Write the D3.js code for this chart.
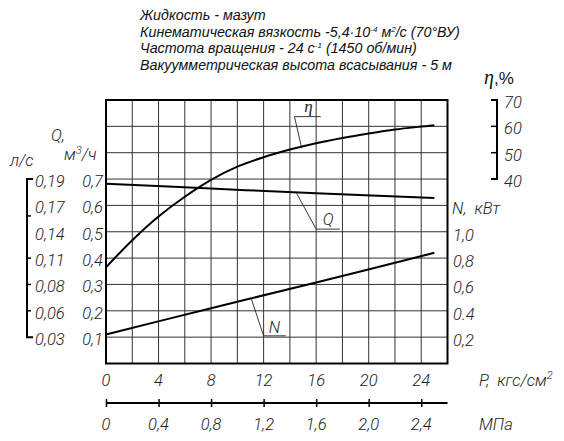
<!DOCTYPE html>
<html><head><meta charset="utf-8">
<script src="https://cdn.jsdelivr.net/npm/d3@7"></script>
<style>
body{margin:0;background:#fff}
svg{display:block}
.t{font-family:Roboto,"DejaVu Sans Condensed",sans-serif;font-style:italic;font-weight:300;font-size:16.5px;fill:#222}
.h{font-family:"Liberation Sans",Arial,sans-serif;font-style:italic;font-size:14.3px;fill:#111}
</style>
</head><body><div class="box"></div>
<script>
// pressure, kgf/cm2 and curves
const pressure=[0,2,4,6,8,10,12,14,16,18,20,22,24,25];
const efficiency=[6.5,16.8,25.8,33.3,39.7,44.7,48.3,51.2,53.6,55.6,57.3,58.8,59.9,60.4];
const flowP=[0,8,16,25];
const flow=[0.682,0.664,0.646,0.628];
const powerP=[0,8,16,25];
const power=[0.22,0.42,0.615,0.84];

const pTicks=[0,4,8,12,16,20,24];
const mpaTicks=[0,0.4,0.8,1.2,1.6,2.0,2.4];
const mpaLabels=['0','0,4','0,8','1,2','1,6','2,0','2,4'];
const qTicks=[0.7,0.6,0.5,0.4,0.3,0.2,0.1];
const qLabels=['0,7','0,6','0,5','0,4','0,3','0,2','0,1'];
const lsLabels=['0,19','0,17','0,14','0,11','0,08','0,06','0,03'];
const lsMarks=[0.56,0.4,0.3,0.2];
const nTicks=[1.0,0.8,0.6,0.4,0.2];
const nLabels=['1,0','0,8','0,6','0.4','0,2'];
const etaTicks=[70,60,50,40];

const header=[
  [['Жидкость - мазут']],
  [['Кинематическая вязкость -5,4·10'],['-4',1],[' м'],['2',1],['/с (70°ВУ)']],
  [['Частота вращения - 24 с'],['-1',1],[' (1450 об/мин)']],
  [['Вакуумметрическая высота всасывания - 5 м']]
];

const W=564,H=441;
const svg=d3.select('.box').append('svg').attr('width',W).attr('height',H).style('background','white');

const x=d3.scaleLinear().domain([0,26]).range([106,447.5]);
const xM=d3.scaleLinear().domain([0,2.6]).range([106,447.5]);
const yQ=d3.scaleLinear().domain([0,1]).range([363.5,100]);
const yN=d3.scaleLinear().domain([0,2]).range([363.5,100]);
const yE=d3.scaleLinear().domain([-30,70]).range([363.5,100]);

// header
header.forEach((line,i)=>{
  const t=svg.append('text').attr('class','h').attr('x',140).attr('y',20+i*16.5);
  line.forEach(s=>{
    const sp=t.append('tspan').text(s[0]);
    if(s[1]) sp.attr('font-size','8px').attr('dy',-5);
    else if(t.selectAll('tspan').size()>1) sp.attr('dy',5);
  });
});

// grid
const g=svg.append('g');
g.selectAll('line.v').data(d3.range(0,27,2)).enter().append('line')
  .attr('x1',d=>x(d)).attr('x2',d=>x(d)).attr('y1',yQ(1)).attr('y2',yQ(0))
  .attr('stroke','#333').attr('stroke-width',1);
g.selectAll('line.hz').data(d3.range(0,11).map(i=>i/10)).enter().append('line')
  .attr('x1',x(0)).attr('x2',x(26)).attr('y1',d=>yQ(d)).attr('y2',d=>yQ(d))
  .attr('stroke','#333').attr('stroke-width',1);
g.append('rect').attr('x',x(0)).attr('y',yQ(1)).attr('width',x(26)-x(0)).attr('height',yQ(0)-yQ(1))
  .attr('fill','none').attr('stroke','#000').attr('stroke-width',2);

// curves
const line=(sy,xs,ys)=>d3.line().x((d,i)=>x(xs[i])).y(d=>sy(d)).curve(d3.curveCatmullRom)(ys);
svg.append('path').attr('d',line(yE,pressure,efficiency)).attr('fill','none').attr('stroke','#000').attr('stroke-width',2);
svg.append('path').attr('d',line(yQ,flowP,flow)).attr('fill','none').attr('stroke','#000').attr('stroke-width',2);
svg.append('path').attr('d',line(yN,powerP,power)).attr('fill','none').attr('stroke','#000').attr('stroke-width',2);

// callouts
const callouts=[
  {s:yE,pts:[[14.9,51.7],[14.35,63.7],[16.35,63.7]],lab:'η',at:[15.1,65.5],serif:1},
  {s:yQ,pts:[[14.5,0.647],[16,0.51],[17.8,0.51]],lab:'Q',at:[16.5,0.525]},
  {s:yN,pts:[[11.07,0.49],[12,0.21],[13.7,0.21]],lab:'N',at:[12.4,0.23]}
];
callouts.forEach(c=>{
  svg.append('path').attr('d',d3.line().x(d=>x(d[0])).y(d=>c.s(d[1]))(c.pts))
    .attr('fill','none').attr('stroke','#222').attr('stroke-width',0.9);
  const t=svg.append('text').attr('x',x(c.at[0])).attr('y',c.s(c.at[1])).text(c.lab);
  if(c.serif) t.attr('font-family','"Liberation Serif",serif').attr('font-style','italic').attr('font-size','17px').attr('fill','#222');
  else t.attr('class','t');
});

// left axes
svg.selectAll('text.q').data(qTicks).enter().append('text').attr('class','t')
  .attr('x',103).attr('y',d=>yQ(d)+8).attr('text-anchor','end').text((d,i)=>qLabels[i]);
svg.selectAll('text.ls').data(qTicks).enter().append('text').attr('class','t')
  .attr('x',35).attr('y',d=>yQ(d)+8).text((d,i)=>lsLabels[i]);
svg.append('path').attr('d',`M${33},${yQ(0.7)}H27V${yQ(0.1)}H33`).attr('fill','none').attr('stroke','#000').attr('stroke-width',2);
svg.selectAll('line.lsm').data(lsMarks).enter().append('line')
  .attr('x1',27).attr('x2',31).attr('y1',d=>yQ(d)).attr('y2',d=>yQ(d)).attr('stroke','#000').attr('stroke-width',1.5);
svg.append('text').attr('class','t').attr('x',51).attr('y',141).text('Q,');
const mq=svg.append('text').attr('class','t').attr('x',64).attr('y',160);
mq.append('tspan').text('м');mq.append('tspan').text('3').attr('font-size','11px').attr('dy',-6);mq.append('tspan').text('/ч').attr('dy',6);
svg.append('text').attr('class','t').attr('x',10).attr('y',166).text('л/с');

// right axes
svg.selectAll('text.n').data(nTicks).enter().append('text').attr('class','t')
  .attr('x',453).attr('y',d=>yN(d)+9).text((d,i)=>nLabels[i]);
svg.append('text').attr('class','t').attr('x',452).attr('y',214).text('N,\u00a0\u00a0кВт');
svg.selectAll('text.e').data(etaTicks).enter().append('text').attr('class','t')
  .attr('x',504).attr('y',d=>yE(d)+8).text(d=>d);
svg.append('path').attr('d',`M491,${yE(70)}H497V${yE(40)}H491`).attr('fill','none').attr('stroke','#000').attr('stroke-width',2);
svg.selectAll('line.em').data([60,50]).enter().append('line')
  .attr('x1',491).attr('x2',497).attr('y1',d=>yE(d)).attr('y2',d=>yE(d)).attr('stroke','#000').attr('stroke-width',1.5);
const et=svg.append('text').attr('x',484).attr('y',84).attr('font-size','20px').attr('fill','#111');
et.append('tspan').text('η').attr('font-family','"Liberation Serif",serif').attr('font-style','italic');
et.append('tspan').text(',%').attr('font-family','"Liberation Sans",sans-serif').attr('font-size','17px');

// bottom axes
svg.selectAll('text.p').data(pTicks).enter().append('text').attr('class','t')
  .attr('x',d=>x(d)).attr('y',386).attr('text-anchor','middle').text(d=>d);
const pt=svg.append('text').attr('class','t').attr('x',479).attr('y',386);
pt.append('tspan').text('P,\u00a0\u00a0кгс/см');pt.append('tspan').text('2').attr('font-size','11px').attr('dy',-7);
const gm=svg.append('g').attr('transform','translate(0,403)');
gm.call(d3.axisBottom(xM).tickValues(mpaTicks).tickSize(0).tickFormat(''));
gm.select('.domain').attr('stroke','#000').attr('stroke-width',2).attr('d',`M${xM(0)},0H${xM(2.6)}`);
gm.selectAll('.tick line').attr('y1',-4).attr('y2',4).attr('stroke','#000').attr('stroke-width',1.5);
svg.selectAll('text.m').data(mpaTicks).enter().append('text').attr('class','t')
  .attr('x',d=>xM(d)).attr('y',430).attr('text-anchor','middle').text((d,i)=>mpaLabels[i]);
svg.append('text').attr('class','t').attr('x',479).attr('y',430).text('МПа');
</script>
</body></html>
